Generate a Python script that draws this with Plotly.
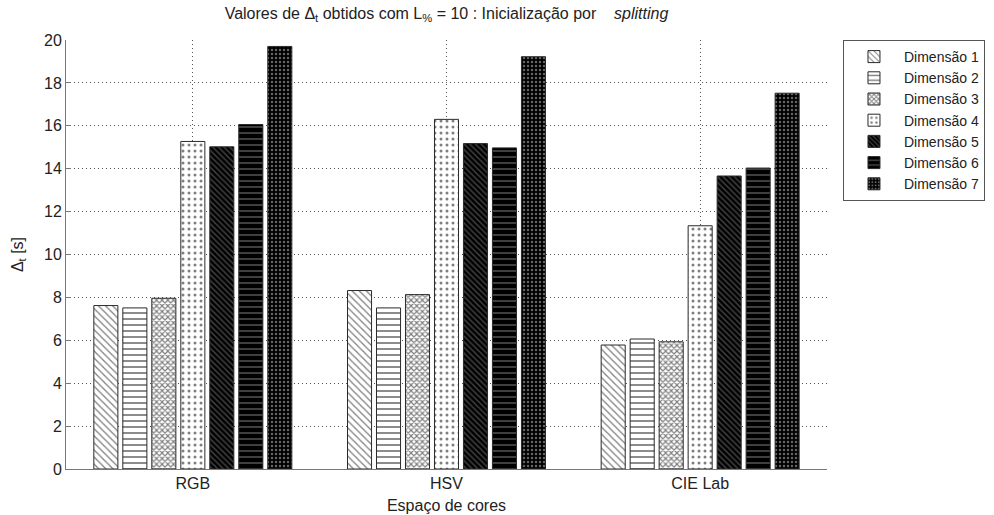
import plotly.graph_objects as go

categories = ["RGB", "HSV", "CIE Lab"]
series_names = ["Dimensão 1", "Dimensão 2", "Dimensão 3", "Dimensão 4",
                "Dimensão 5", "Dimensão 6", "Dimensão 7"]
dim1 = [7.62, 8.32, 5.78]
dim2 = [7.51, 7.51, 6.06]
dim3 = [7.96, 8.13, 5.93]
dim4 = [15.27, 16.30, 11.34]
dim5 = [15.02, 15.17, 13.66]
dim6 = [16.06, 14.97, 14.03]
dim7 = [19.70, 19.22, 17.52]
y_ticks = [0, 2, 4, 6, 8, 10, 12, 14, 16, 18, 20]

values = [dim1, dim2, dim3, dim4, dim5, dim6, dim7]
patterns = [
    dict(shape="\\", bgcolor="white", fgcolor="#000000", size=5, solidity=0.25),
    dict(shape="-", bgcolor="white", fgcolor="#000000", size=6, solidity=0.3),
    dict(shape="x", bgcolor="white", fgcolor="#000000", size=4, solidity=0.5),
    dict(shape=".", bgcolor="white", fgcolor="#000000", size=6, solidity=0.2),
    dict(shape="\\", bgcolor="#000000", fgcolor="#8a8a8a", size=4, solidity=0.35),
    dict(shape="-", bgcolor="#000000", fgcolor="#a8a8a8", size=6, solidity=0.25),
    dict(shape=".", bgcolor="#000000", fgcolor="#c8c8c8", size=4, solidity=0.3),
]

font_family = "Liberation Sans, Arial, sans-serif"
fig = go.Figure()
for name, vals, pat in zip(series_names, values, patterns):
    fig.add_trace(go.Bar(
        x=categories, y=vals, name=name,
        marker=dict(color=pat["bgcolor"], pattern=pat,
                    line=dict(color="#2a2a2a", width=1)),
    ))

nb = "\u00a0"
fig.update_layout(
    width=994, height=515,
    margin=dict(l=66, r=167, t=40, b=46, autoexpand=False),
    paper_bgcolor="white", plot_bgcolor="white",
    font=dict(family=font_family, size=16, color="#222222"),
    barmode="group", bargap=0.2, bargroupgap=0.17,
    title=dict(
        text="Valores de Δ<sub>t</sub> obtidos com L<sub>%</sub> = 10 : Inicialização por" + nb * 4 + "<i>splitting</i>",
        x=(66 + 827) / 2 / 994, xanchor="center",
        y=1 - 13 / 515, yanchor="middle",
        font=dict(size=16, color="#222222"),
    ),
    legend=dict(
        x=1.021, xanchor="left", y=1.0, yanchor="top",
        bordercolor="#555555", borderwidth=1, bgcolor="white",
        font=dict(size=14, color="#222222"), tracegroupgap=0,
        itemwidth=50,
    ),
    showlegend=True,
)
fig.update_xaxes(
    automargin=False,
    showline=True, linecolor="#777777", linewidth=1,
    showgrid=True, gridcolor="#555555", griddash="1px,3px", gridwidth=1,
    ticks="", tickfont=dict(size=16),
    title=dict(text="Espaço de cores", font=dict(size=16), standoff=8),
)
fig.update_yaxes(
    automargin=False,
    range=[0, 20], tickvals=y_ticks,
    showline=True, linecolor="#777777", linewidth=1,
    showgrid=True, gridcolor="#555555", griddash="1px,3px", gridwidth=1,
    ticks="inside", ticklen=5, tickcolor="#777777",
    zeroline=False, tickfont=dict(size=16),
    title=dict(text="Δ<sub>t</sub> [s]", font=dict(size=16), standoff=16),
)

fig.write_html("out.html", config={"displayModeBar": False},
               post_script="document.body.style.margin='0';document.body.style.overflow='hidden';")
